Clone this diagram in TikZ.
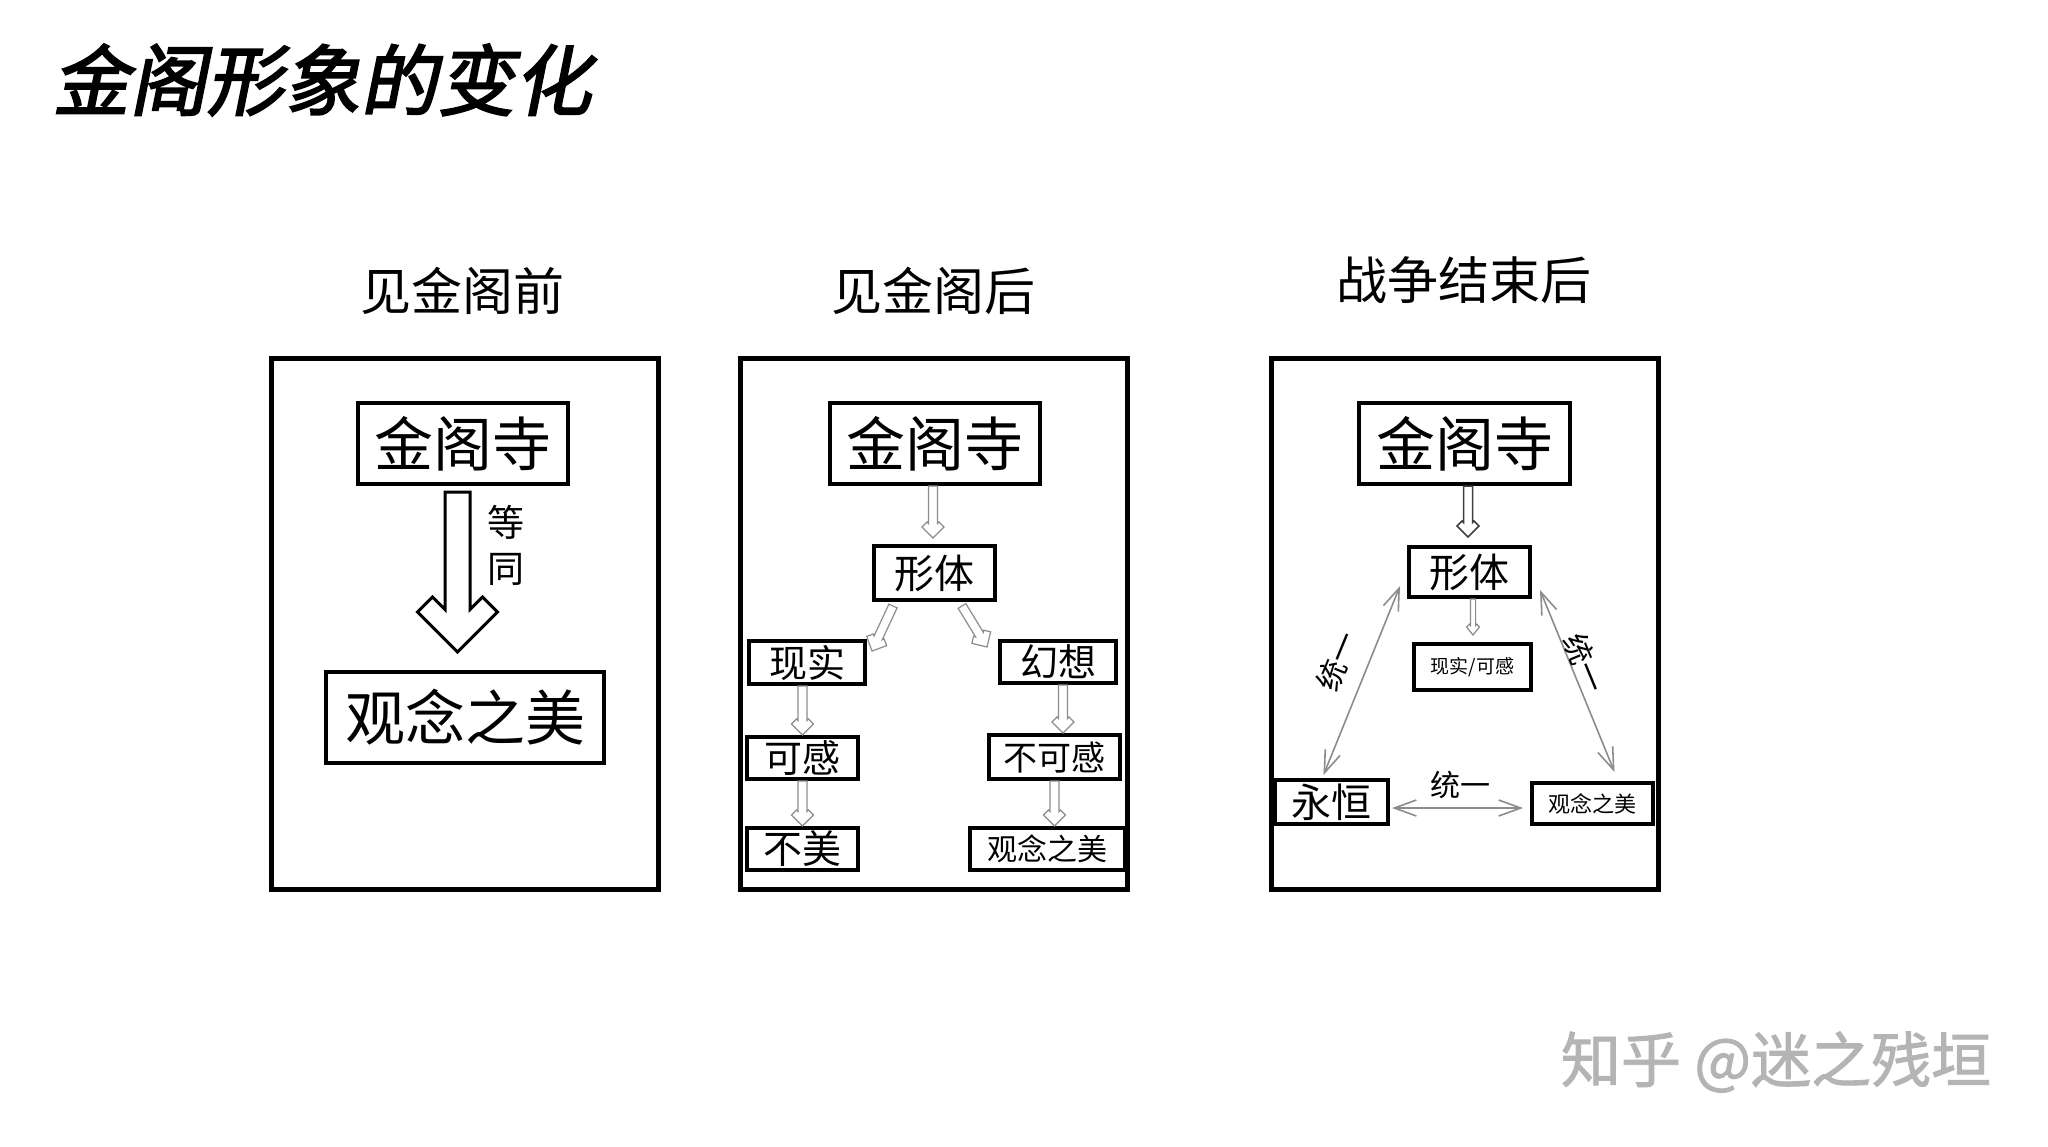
\documentclass[tikz,border=0pt]{standalone}
\usepackage{fontspec}
\setmainfont{Noto Sans CJK SC}
\newfontfamily\titlefont{Noto Sans CJK SC}[FakeBold=2.5,FakeSlant=0.2]
\newfontfamily\wmfont{Noto Sans CJK SC}[FakeBold=1.5]
\usetikzlibrary{calc,arrows.meta}
\definecolor{arrgray}{HTML}{8C8C8C}
\definecolor{wmgray}{HTML}{B4B4B4}
\newcommand\fs[1]{\fontsize{#1pt}{#1pt}\selectfont}
% hollow block arrow: [style]{start}{end}{half shaft}{head half width}{head length}{arm offset}
\newcommand\hollowarrow[7][]{%
  \draw[#1] let \p1=#2, \p2=#3,
    \n1={veclen(\x2-\x1,\y2-\y1)},
    \n2={(\x2-\x1)/\n1}, \n3={(\y2-\y1)/\n1},
    \n{s}={#4}, \n{W}={#5}, \n{h}={#6}, \n{d}={#7},
    \n{ah}={\n1-\n{h}},
    \n{at}={\n1-\n{h}-\n{d}},
    \n{ac}={\n1-\n{h}-\n{d}+\n{h}*(\n{W}-\n{d}-\n{s})/\n{W}}
  in ({\x1-\n{s}*\n3},{\y1+\n{s}*\n2})
  -- ({\x1+\n{ac}*\n2-\n{s}*\n3},{\y1+\n{ac}*\n3+\n{s}*\n2})
  -- ({\x1+\n{at}*\n2-(\n{W}-\n{d})*\n3},{\y1+\n{at}*\n3+(\n{W}-\n{d})*\n2})
  -- ({\x1+\n{ah}*\n2-\n{W}*\n3},{\y1+\n{ah}*\n3+\n{W}*\n2})
  -- (\p2)
  -- ({\x1+\n{ah}*\n2+\n{W}*\n3},{\y1+\n{ah}*\n3-\n{W}*\n2})
  -- ({\x1+\n{at}*\n2+(\n{W}-\n{d})*\n3},{\y1+\n{at}*\n3-(\n{W}-\n{d})*\n2})
  -- ({\x1+\n{ac}*\n2+\n{s}*\n3},{\y1+\n{ac}*\n3-\n{s}*\n2})
  -- ({\x1+\n{s}*\n3},{\y1-\n{s}*\n2})
  -- cycle;}
\tikzset{
  titlestyle/.style={font=\titlefont\fontsize{38.5pt}{38.5pt}\selectfont, inner sep=0pt, anchor=west},
  substyle/.style={font=\fs{25.5}, inner sep=0pt},
  outerbox/.style={draw, line width=2.5pt, minimum width=193.5pt, minimum height=265.5pt, inner sep=0pt},
  ibox/.style 2 args={draw, line width=2pt, inner sep=0pt, minimum width=#1pt, minimum height=#2pt},
  bigarrow/.style={draw=black, fill=white, line width=1.5pt, line join=miter},
  hol/.style={draw=arrgray, fill=white, line width=0.6pt, line join=miter},
  holdark/.style={draw=black!75, fill=white, line width=0.75pt, line join=miter},
  bidir/.style={draw=arrgray, line width=0.8pt,
    {Straight Barb[length=11pt,width=8pt]}-{Straight Barb[length=11pt,width=8pt]}},
  unify/.style={font=\fs{15}, inner sep=0pt},
  wmstyle/.style={font=\wmfont\fontsize{30pt}{30pt}\selectfont, text=wmgray, inner sep=0pt}
}
\begin{document}
\begin{tikzpicture}[x=0.5pt,y=-0.5pt]
\useasboundingbox[fill=white] (0,0) rectangle (2048,1146);
% title and headings
\node[titlestyle] (title) at (52,80) {金阁形象的变化};
\node[substyle] (s1) at (462,291) {见金阁前};
\node[substyle] (s2) at (933,291) {见金阁后};
\node[substyle] (s3) at (1464,280) {战争结束后};
% panel frames
\node[outerbox] (o1) at (465,624) {};
\node[outerbox] (o2) at (934,624) {};
\node[outerbox] (o3) at (1465,624) {};
% ---------- panel 1
\node[ibox={105}{40.5}, font=\fs{29.5}] (k1) at (463,443.5) {金阁寺};
\node[ibox={139}{45.5}, font=\fs{30}] (g1) at (465,717.5) {观念之美};
\hollowarrow[bigarrow]{($(k1.south)+(-5.5,6)$)}{($(g1.north)+(-7.5,-18)$)}{6.25}{20}{20}{7.5}
\node[font=\fontsize{18.5pt}{23pt}\selectfont, align=center, inner sep=0pt] (dt) at (505.5,545) {等\\同};
% ---------- panel 2
\node[ibox={105}{40.5}, font=\fs{29.5}] (k2) at (935,443.5) {金阁寺};
\node[ibox={60.5}{27}, font=\fs{20}] (x2) at (934.5,573) {形体};
\node[ibox={58}{21.5}, font=\fs{19}] (r2) at (807,662.5) {现实};
\node[ibox={58}{21}, font=\fs{19}] (h2) at (1058,662) {幻想};
\node[ibox={55.5}{21}, font=\fs{19}] (kg2) at (802.5,758) {可感};
\node[ibox={65.5}{22}, font=\fs{17}] (bk2) at (1054.5,757) {不可感};
\node[ibox={55.5}{21}, font=\fs{19.5}] (bm2) at (802.5,849) {不美};
\node[ibox={77.5}{21}, font=\fs{15}] (g2) at (1047.5,849) {观念之美};
\hollowarrow[hol]{($(k2.south)+(-2,0)$)}{($(k2.south |- x2.north)+(-2,-6)$)}{2.25}{5.5}{5.5}{2.5}
\hollowarrow[hol]{($(x2.south)+(-41.5,4)$)}{($(r2.north east)+(5,12)$)}{2.25}{5.5}{5.5}{2.5}
\hollowarrow[hol]{($(x2.south)+(27.5,4)$)}{($(h2.north west)+(-11,8)$)}{2.25}{5.5}{5.5}{2.5}
\hollowarrow[hol]{(r2.south -| kg2.north)}{(kg2.north)}{2.25}{5.5}{5.5}{2.5}
\hollowarrow[hol]{(kg2.south)}{(kg2.south |- bm2.north)}{2.25}{5.5}{5.5}{2.5}
\hollowarrow[hol]{($(h2.south)+(5,0)$)}{($(h2.south |- bk2.north)+(5,0)$)}{2.25}{5.5}{5.5}{2.5}
\hollowarrow[hol]{(bk2.south)}{(bk2.south |- g2.north)}{2.25}{5.5}{5.5}{2.5}
% ---------- panel 3
\node[ibox={105.5}{40.5}, font=\fs{29.5}] (k3) at (1464.5,443.5) {金阁寺};
\node[ibox={60.5}{25}, font=\fs{20}] (x3) at (1469.5,572) {形体};
\node[ibox={58.5}{23}, font=\fs{9.5}] (rk3) at (1472.5,667) {现实/可感};
\node[ibox={56.5}{22}, font=\fs{20}] (y3) at (1331.5,802) {永恒};
\node[ibox={60.5}{20.5}, font=\fs{11}] (g3) at (1592.5,803.5) {观念之美};
\hollowarrow[holdark]{($(k3.south)+(3.5,0)$)}{($(k3.south |- x3.north)+(3.5,-8)$)}{2.25}{5.5}{5.5}{2.5}
\hollowarrow[hol]{($(x3.south)+(3.5,0)$)}{($(x3.south |- rk3.north)+(3.5,-7)$)}{1.3}{3.2}{4}{1.4}
\draw[bidir] ($(y3.north)+(-8,-3)$) -- ($(x3.south west)+(-7,-13)$);
\draw[bidir] ($(x3.south east)+(8,-9)$) -- ($(g3.north)+(22,-9)$);
\draw[bidir] ($(y3.east)+(2,6)$) -- ($(g3.west)+(-7,4.5)$);
\node[unify, rotate=67.7] (u1) at (1337,661) {统一};
\node[unify, rotate=-67.6] (u2) at (1585,663) {统一};
\node[unify] (u3) at (1460,785) {统一};
% watermark
\node[wmstyle] (wm) at (1776,1062) {知乎 @迷之残垣};
\end{tikzpicture}
\end{document}
